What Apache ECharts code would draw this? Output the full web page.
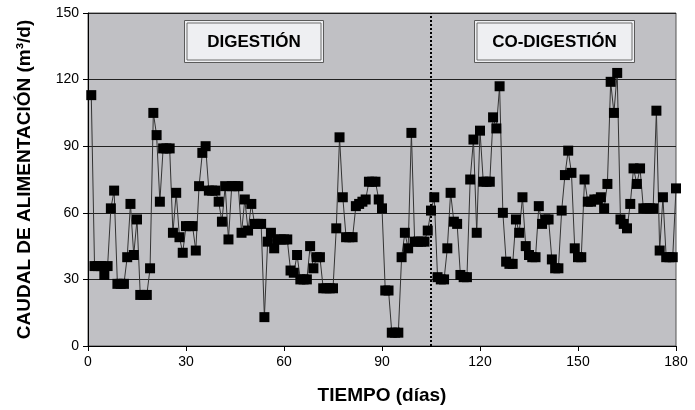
<!DOCTYPE html>
<html>
<head>
<meta charset="utf-8">
<script src="https://cdn.jsdelivr.net/npm/echarts@6/dist/echarts.min.js"></script>
<style>
  html, body { margin: 0; padding: 0; background: #fff; }
  #chart { width: 695px; height: 410px; }
</style>
</head>
<body>
<div id="chart"></div>
<script>
// caudal de alimentación (m3/d), un valor por día desde el día 1
var caudal = [
    113, 36, 36, 36, 32, 36, 62, 70, 28, 28,
    28, 40, 64, 41, 57, 23, 23, 23, 35, 105,
    95, 65, 89, 89, 89, 51, 69, 49, 42, 54,
    54, 54, 43, 72, 87, 90, 70, 70, 70, 65,
    56, 72, 48, 72, 72, 72, 51, 66, 52, 64,
    55, 55, 55, 13, 47, 51, 44, 48, 48, 48,
    48, 34, 33, 41, 30, 30, 30, 45, 35, 40,
    40, 26, 26, 26, 26, 53, 94, 67, 49, 49,
    49, 63, 64, 65, 66, 74, 74, 74, 66, 62,
    25, 25, 6, 6, 6, 40, 51, 44, 96, 47,
    47, 47, 47, 52, 61, 67, 31, 30, 30, 44,
    69, 56, 55, 32, 31, 31, 75, 93, 51, 97,
    74, 74, 74, 103, 98, 117, 60, 38, 37, 37,
    57, 51, 67, 45, 41, 40, 40, 63, 55, 57,
    57, 39, 35, 35, 61, 77, 88, 78, 44, 40,
    40, 75, 65, 65, 66, 66, 67, 62, 73, 119,
    105, 123, 57, 55, 53, 64, 80, 73, 80, 62,
    62, 62, 62, 106, 43, 67, 40, 40, 40, 71
];
var diaInicio = 1;
var diaCambio = 105;   // paso de digestión a co-digestión
var etiquetasFase = ['DIGESTIÓN', 'CO-DIGESTIÓN'];

var puntos = [];
for (var i = 0; i < caudal.length; i++) {
    puntos.push([diaInicio + i, caudal[i]]);
}

var FONT = 'Liberation Sans, Arial, Helvetica, sans-serif';

function cajaFase(texto, left, width) {
    return {
        type: 'group',
        left: left,
        top: 20,
        children: [
            { type: 'rect', shape: { x: 0, y: 0, width: width, height: 42 },
              style: { fill: '#eeeff2', stroke: '#5a5a5a', lineWidth: 1 } },
            { type: 'rect', shape: { x: 2.5, y: 2.5, width: width - 5, height: 37 },
              style: { fill: 'none', stroke: '#6e6e6e', lineWidth: 1 } },
            { type: 'text', x: width / 2, y: 22,
              style: { text: texto, fill: '#000', font: 'bold 17px ' + FONT,
                       align: 'center', verticalAlign: 'middle' } }
        ]
    };
}

var chart = echarts.init(document.getElementById('chart'));
chart.setOption({
    animation: false,
    grid: {
        left: 88, right: 19, top: 13, bottom: 64,
        show: true, backgroundColor: '#c0c0c4', borderColor: '#555', borderWidth: 1
    },
    xAxis: {
        type: 'value', min: 0, max: 180, interval: 30,
        name: 'TIEMPO (días)', nameLocation: 'middle', nameGap: 40,
        nameTextStyle: { color: '#000', fontSize: 19, fontWeight: 'bold', fontFamily: FONT },
        axisLine: { show: true, lineStyle: { color: '#000', width: 1 } },
        axisTick: { show: true, length: 5, lineStyle: { color: '#000' } },
        axisLabel: { color: '#000', fontSize: 14, fontFamily: FONT, margin: 9 },
        splitLine: { show: false }
    },
    yAxis: {
        type: 'value', min: 0, max: 150, interval: 30,
        name: 'CAUDAL DE ALIMENTACIÓN (m³/d)', nameLocation: 'middle', nameGap: 54,
        nameTextStyle: { color: '#000', fontSize: 19, fontWeight: 'bold', fontFamily: FONT },
        axisLine: { show: true, lineStyle: { color: '#000', width: 1 } },
        axisTick: { show: true, length: 5, lineStyle: { color: '#000' } },
        axisLabel: { color: '#000', fontSize: 14, fontFamily: FONT, margin: 9 },
        splitLine: { show: true, lineStyle: { color: '#222', width: 1 } }
    },
    series: [{
        type: 'line',
        data: puntos,
        symbol: 'rect',
        symbolSize: 10,
        showAllSymbol: true,
        lineStyle: { color: '#333', width: 1 },
        itemStyle: { color: '#000', borderWidth: 0 },
        markLine: {
            silent: true,
            symbol: 'none',
            label: { show: false },
            lineStyle: { color: '#000', type: [2, 2], width: 2 },
            data: [{ xAxis: diaCambio }]
        },
        z: 3
    }],
    graphic: [
        cajaFase(etiquetasFase[0], 184, 139),
        cajaFase(etiquetasFase[1], 474, 160)
    ]
});
</script>
</body>
</html>
